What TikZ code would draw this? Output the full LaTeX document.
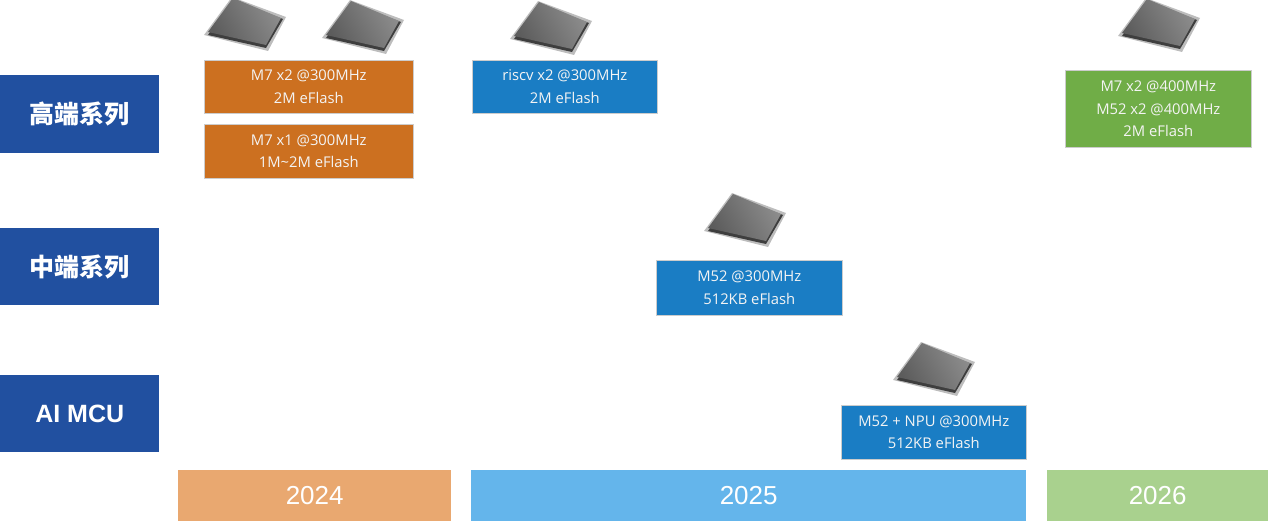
\documentclass[tikz,border=0pt]{standalone}
\usepackage{fontspec}
\setmainfont{Open Sans}
\newfontfamily\cjkfont{Noto Sans CJK SC}
\newfontfamily\yearfont{Liberation Sans}
\newfontfamily\boldsans{Liberation Sans}
\definecolor{lblblue}{HTML}{2150A0}
\definecolor{boxorange}{HTML}{CC7020}
\definecolor{boxblue}{HTML}{1A7DC4}
\definecolor{boxgreen}{HTML}{70AD47}
\definecolor{bar24}{HTML}{E9A870}
\definecolor{bar25}{HTML}{64B5EB}
\definecolor{bar26}{HTML}{A9D18E}
\definecolor{chipbody}{HTML}{5C5C5C}
\definecolor{chiptop}{HTML}{8C8C8C}
\definecolor{chipedge}{HTML}{3E3E3E}
\definecolor{chippins}{HTML}{BDBDBD}
\definecolor{boxtext}{HTML}{F4F4F4}
\begin{document}
\begin{tikzpicture}[x=1pt,y=-1pt,
  lbl/.style={fill=lblblue,text=white,inner sep=0pt},
  prod/.style={draw=white!80!black,line width=0.6pt,text=boxtext,inner sep=0pt,align=center,
     font=\fontsize{14.8}{22.5}\selectfont},
  yearbar/.style={inner sep=0pt,text=white,font=\yearfont\fontsize{26}{30}\selectfont},
  chip/.pic={
    \fill[chippins] (-40,13) -- (-12,-25) -- (42,-5) -- (24,29) -- cycle;
    \fill[chipedge] (-36,13) -- (-11,-22) -- (39,-3) -- (22,26) -- cycle;
    \shade[left color=chiptop,right color=chipbody,shading angle=-60] (-36,10) -- (-11,-24) -- (37,-4) -- (22,23) -- cycle;
  }]
\useasboundingbox (0,0) rectangle (1269,521);
% left labels
\node[lbl,minimum width=159pt,minimum height=78pt,anchor=north west,font=\cjkfont\bfseries\fontsize{25}{30}\selectfont] (high) at (0,75) {高端系列};
\node[lbl,minimum width=159pt,minimum height=77pt,anchor=north west,font=\cjkfont\bfseries\fontsize{25}{30}\selectfont] (mid) at (0,228) {中端系列};
\node[lbl,minimum width=159pt,minimum height=77pt,anchor=north west,font=\boldsans\bfseries\fontsize{25}{30}\selectfont] (ai) at (0,375) {AI MCU};
% chips
\pic at (244,22) {chip};
\pic at (362,25) {chip};
\pic at (550,26) {chip};
\pic at (1158,23) {chip};
\pic at (744,218) {chip};
\pic at (933,367) {chip};
% product boxes
\node[prod,fill=boxorange,minimum width=209pt,minimum height=53pt,anchor=north west] (o1) at (204,60) {M7 x2 @300MHz\\2M eFlash};
\node[prod,fill=boxorange,minimum width=209pt,minimum height=54pt,anchor=north west] (o2) at (204,124) {M7 x1 @300MHz\\1M\textasciitilde 2M eFlash};
\node[prod,fill=boxblue,minimum width=185pt,minimum height=53pt,anchor=north west] (rv) at (472,60) {riscv x2 @300MHz\\2M eFlash};
\node[prod,fill=boxgreen,minimum width=186pt,minimum height=77pt,anchor=north west] (gr) at (1065,70) {M7 x2 @400MHz\\M52 x2 @400MHz\\2M eFlash};
\node[prod,fill=boxblue,minimum width=186pt,minimum height=55pt,anchor=north west] (m52) at (656,260) {M52 @300MHz\\512KB eFlash};
\node[prod,fill=boxblue,minimum width=185pt,minimum height=54pt,anchor=north west] (npu) at (841,405) {M52 + NPU @300MHz\\512KB eFlash};
% year bars
\node[yearbar,fill=bar24,minimum width=273pt,minimum height=51pt,anchor=north west] (y24) at (178,470) {2024};
\node[yearbar,fill=bar25,minimum width=555pt,minimum height=51pt,anchor=north west] (y25) at (471,470) {2025};
\node[yearbar,fill=bar26,minimum width=221pt,minimum height=51pt,anchor=north west] (y26) at (1047,470) {2026};
\end{tikzpicture}
\end{document}
